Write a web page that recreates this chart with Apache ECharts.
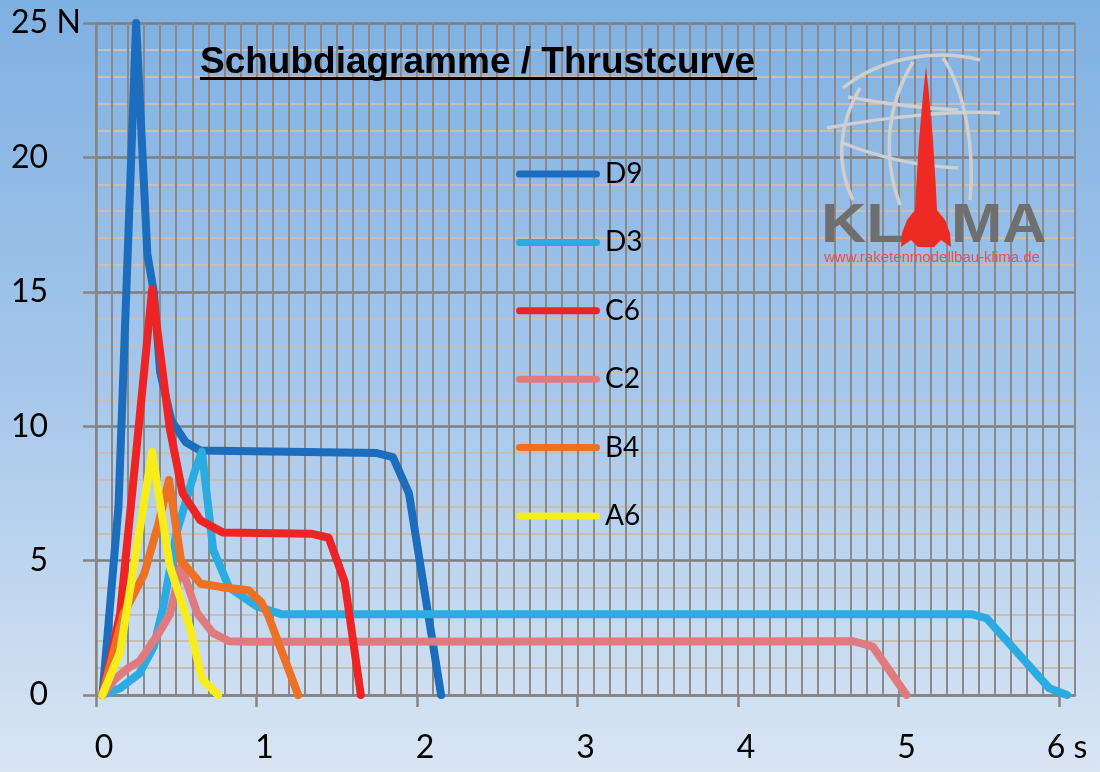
<!DOCTYPE html>
<html>
<head>
<meta charset="utf-8">
<script src="https://cdn.jsdelivr.net/npm/echarts@6/dist/echarts.min.js"></script>
<style>
  html, body { margin: 0; padding: 0; }
  #main { width: 1100px; height: 772px; }
</style>
</head>
<body>
<div id="main"></div>
<script>
// thrust curves, time in s / thrust in N
var d9Time   = [0.04, 0.14, 0.25, 0.32, 0.36, 0.40, 0.47, 0.56, 0.65, 1.75, 1.85, 1.95, 2.15];
var d9Thrust = [0,    7,    25,   16.4, 15,   12,   10.2, 9.4,  9.1,  9.0,  8.85, 7.5,  0];

var d3Time   = [0.04, 0.15, 0.27, 0.36, 0.42, 0.50, 0.62, 0.66, 0.73, 0.83, 1.00, 1.16, 5.46, 5.55, 5.94, 6.05];
var d3Thrust = [0,    0.25, 0.8,  1.8,  3.3,  6.0,  8.4,  9.05, 5.4,  4.0,  3.3,  3.0,  3.0,  2.85, 0.25, 0];

var c6Time   = [0.04, 0.15, 0.25, 0.35, 0.46, 0.54, 0.65, 0.79, 1.34, 1.45, 1.55, 1.65];
var c6Thrust = [0,    3,    9,    15.1, 9.9,  7.5,  6.5,  6.05, 6.0,  5.85, 4.2,  0];

var c2Time   = [0.04, 0.12, 0.20, 0.27, 0.38, 0.46, 0.53, 0.63, 0.73, 0.83, 0.96, 4.72, 4.84, 5.05];
var c2Thrust = [0,    0.6,  1.0,  1.25, 2.2,  3.0,  4.8,  3.05, 2.3,  2.0,  1.98, 2.0,  1.8,  0];

var b4Time   = [0.04, 0.17, 0.30, 0.39, 0.455, 0.53, 0.65, 0.80, 0.95, 1.03, 1.07, 1.26];
var b4Thrust = [0,    3.0,  4.5,  6.4,  8.0,   5.0,  4.15, 4.0,  3.9,  3.45, 3.0,  0];

var a6Time   = [0.04, 0.15, 0.35, 0.46, 0.585, 0.66, 0.76];
var a6Thrust = [0,    1.6,  9.05, 4.8,  2.5,   0.6,  0];

var xTicks = [0, 1, 2, 3, 4, 5, 6];
var legendNames = ['D9', 'D3', 'C6', 'C2', 'B4', 'A6'];

function pairs(t, v) {
    return t.map(function (x, i) { return [x, v[i]]; });
}

function curve(name, color, t, v) {
    return {
        name: name,
        type: 'line',
        symbol: 'none',
        xAxisIndex: 0,
        color: color,
        lineStyle: { width: 8, color: color, cap: 'round', join: 'round' },
        data: pairs(t, v)
    };
}

var gridGrey = '#858585';
var globe = { stroke: '#cfcfcf', lineWidth: 3.5, fill: null };

var myChart = echarts.init(document.getElementById('main'));
var option = {
    animation: false,
    backgroundColor: {
        type: 'linear', x: 0, y: 0, x2: 0, y2: 1,
        colorStops: [
            { offset: 0, color: '#7fb0e2' },
            { offset: 0.5, color: '#a6c7eb' },
            { offset: 1, color: '#dae5f3' }
        ]
    },
    grid: { left: 96, right: 25, top: 23, bottom: 77 },
    legend: {
        data: legendNames,
        orient: 'vertical',
        left: 516,
        top: 159,
        padding: 0,
        itemWidth: 84,
        itemHeight: 7,
        itemGap: 38.4,
        icon: 'path://M3.5,0 L80.5,0 A3.5,3.5 0 0 1 80.5,7 L3.5,7 A3.5,3.5 0 0 1 3.5,0 Z',
        textStyle: { fontFamily: 'Lato', fontSize: 28, color: '#000', lineHeight: 30 }
    },
    xAxis: [
        {
            type: 'value',
            position: 'bottom',
            min: 0,
            max: 6.1,
            interval: 0.1,
            z: 3,
            axisLine: { show: true, lineStyle: { color: gridGrey, width: 2.5 } },
            axisTick: { show: true, customValues: xTicks, length: 12, lineStyle: { color: gridGrey, width: 2.5 } },
            axisLabel: {
                customValues: xTicks,
                fontFamily: 'Lato', fontSize: 32, color: '#000',
                margin: 37,
                padding: [0, 0, 0, 16],
                formatter: function (v) { return v === 6 ? '6 s' : String(v); }
            },
            splitLine: { show: false }
        },
        {
            // 0.1 s grid
            type: 'value',
            position: 'bottom',
            min: 0,
            max: 6.1,
            interval: 0.1,
            axisLine: { show: false },
            axisTick: { show: false },
            axisLabel: { show: false },
            splitLine: { show: true, lineStyle: { color: '#8a8a8a', width: 2 } }
        }
    ],
    yAxis: {
        type: 'value',
        min: 0,
        max: 25,
        interval: 5,
        name: 'N',
        nameLocation: 'end',
        nameGap: 0,
        nameTextStyle: {
            fontFamily: 'Lato', fontSize: 32, color: '#000',
            align: 'right', verticalAlign: 'middle', padding: [0, 15, 0, 0]
        },
        axisLine: { show: true, lineStyle: { color: gridGrey, width: 2.5 } },
        axisTick: { show: true, length: 13, lineStyle: { color: gridGrey, width: 2.5 } },
        axisLabel: { fontFamily: 'Lato', fontSize: 32, color: '#000', margin: 48 },
        splitLine: { show: true, lineStyle: { color: '#7e7e7e', width: 2.5 } },
        minorTick: { show: false, splitNumber: 5 },
        minorSplitLine: { show: true, lineStyle: { color: '#c9beb4', width: 2 } }
    },
    graphic: [
        // title with underline
        {
            type: 'text', left: 200, top: 44, z: 10,
            style: { text: 'Schubdiagramme / Thrustcurve', font: 'bold 37px "Liberation Sans"', fill: '#000' }
        },
        { type: 'rect', shape: { x: 200, y: 77, width: 557, height: 3 }, style: { fill: '#000' }, z: 10 },
        // KLIMA logo
        { type: 'bezierCurve', z: 10, shape: { x1: 843, y1: 88, cpx1: 880, cpy1: 58, cpx2: 935, cpy2: 48, x2: 980, y2: 60 }, style: globe },
        { type: 'bezierCurve', z: 10, shape: { x1: 860, y1: 88, cpx1: 838, cpy1: 125, cpx2: 836, cpy2: 165, x2: 853, y2: 200 }, style: globe },
        { type: 'bezierCurve', z: 10, shape: { x1: 913, y1: 62, cpx1: 890, cpy1: 100, cpx2: 880, cpy2: 150, x2: 900, y2: 205 }, style: globe },
        { type: 'bezierCurve', z: 10, shape: { x1: 943, y1: 58, cpx1: 965, cpy1: 90, cpx2: 975, cpy2: 150, x2: 970, y2: 200 }, style: globe },
        { type: 'bezierCurve', z: 10, shape: { x1: 827, y1: 128, cpx1: 880, cpy1: 118, cpx2: 950, cpy2: 110, x2: 1000, y2: 113 }, style: globe },
        { type: 'bezierCurve', z: 10, shape: { x1: 848, y1: 97, cpx1: 880, cpy1: 103, cpx2: 920, cpy2: 108, x2: 958, y2: 110 }, style: globe },
        { type: 'bezierCurve', z: 10, shape: { x1: 843, y1: 143, cpx1: 880, cpy1: 158, cpx2: 920, cpy2: 166, x2: 958, y2: 168 }, style: globe },
        {
            type: 'text', z: 11, left: 821, top: 199, scaleX: 1.12,
            style: { text: 'KL', font: 'bold 56px "Liberation Sans"', fill: '#6f6f6f' }
        },
        {
            type: 'text', z: 11, left: 951, top: 199, scaleX: 1.1,
            style: { text: 'MA', font: 'bold 56px "Liberation Sans"', fill: '#6f6f6f' }
        },
        {
            type: 'polygon', z: 12,
            shape: {
                points: [[926, 66], [929, 95], [933, 140], [936, 190], [937, 210], [945, 220], [950, 233], [951, 247],
                         [941, 240], [934, 247], [918, 247], [911, 240], [901, 247], [902, 233], [907, 220], [915, 210],
                         [916, 190], [919, 140], [923, 95]]
            },
            style: { fill: '#ee2a24' }
        },
        {
            type: 'text', z: 11, left: 824, top: 250,
            style: { text: 'www.raketenmodellbau-klima.de', font: '15px "Liberation Sans"', fill: '#f0503c' }
        }
    ],
    series: [
        curve('D9', '#1c6dbd', d9Time, d9Thrust),
        curve('D3', '#2aace2', d3Time, d3Thrust),
        curve('C2', '#df7b7f', c2Time, c2Thrust),
        curve('C6', '#ee2323', c6Time, c6Thrust),
        curve('B4', '#ec7125', b4Time, b4Thrust),
        curve('A6', '#f8ec1c', a6Time, a6Thrust)
    ]
};
myChart.setOption(option);
</script>
</body>
</html>
